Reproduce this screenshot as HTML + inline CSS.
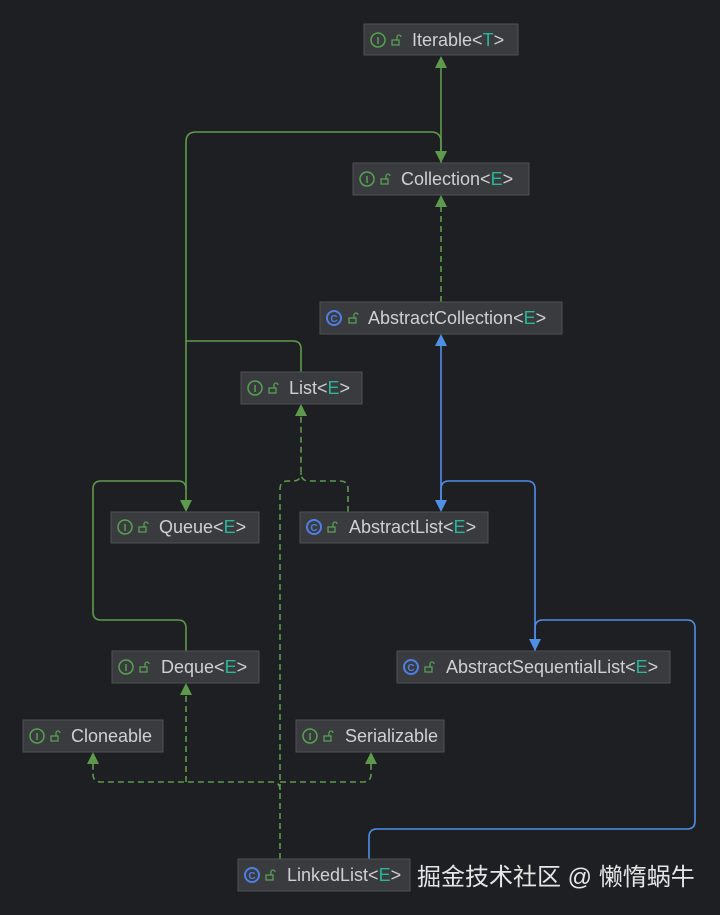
<!DOCTYPE html>
<html><head><meta charset="utf-8"><style>
html,body{margin:0;padding:0;background:#1e1f22;}
svg{display:block}
text{font-family:"Liberation Sans","Noto Sans CJK SC",sans-serif;}
</style></head><body>
<svg width="720" height="915" viewBox="0 0 720 915" xmlns="http://www.w3.org/2000/svg">
<rect width="720" height="915" fill="#1e1f22"/>
<defs>
<g id="lk"><rect x="-4" y="-1" width="7" height="5" fill="none" stroke="#5a9e55" stroke-width="1.3"/><path d="M1,-1 v-3 a2,2 0 0 1 4,0" fill="none" stroke="#5a9e55" stroke-width="1.3"/></g>
</defs>
<g fill="none" stroke-width="1.6">
<g stroke="#5e9a4c">
<path d="M441,163 V62"/>
<path d="M186,506 V142 Q186,132 196,132 H431 Q441,132 441,142 V157"/>
<path d="M301,372 V349 Q301,341 293,341 H186"/>
<path d="M186,651 V628 Q186,620 178,620 H101 Q93,620 93,612 V489 Q93,481 101,481 H178 Q186,481 186,489"/>
</g>
<g stroke="#5e9a4c" stroke-dasharray="6,4">
<path d="M441,302 V201"/>
<path d="M348,512 V489 Q348,481 340,481 H309 Q301,481 301,473 V410"/>
<path d="M280,859 V790 Q280,782 272,782 H101 Q93,782 93,774 V758"/>
<path d="M280,782 H363 Q371,782 371,774 V758"/>
<path d="M186,782 V689"/>
<path d="M280,790 V489 Q280,481 288,481 H293 Q301,481 301,473"/>
</g>
<g stroke="#4f8fe6">
<path d="M441,506 V340"/>
<path d="M535,651 V489 Q535,481 527,481 H449 Q441,481 441,489 V506"/>
<path d="M369,859 V837 Q369,829 377,829 H687 Q695,829 695,821 V628 Q695,620 687,620 H543 Q535,620 535,628 V645"/>
</g>
</g>
<g fill="#5e9a4c">
<path d="M441,56 l-6,12 h12z"/>
<path d="M441,163 l-6,-12 h12z"/>
<path d="M441,195 l-6,12 h12z"/>
<path d="M186,512 l-6,-12 h12z"/>
<path d="M301,404 l-6,12 h12z"/>
<path d="M186,683 l-6,12 h12z"/>
<path d="M93,752 l-6,12 h12z"/>
<path d="M371,752 l-6,12 h12z"/>
</g>
<g fill="#4f8fe6">
<path d="M441,334 l-6,12 h12z"/>
<path d="M441,512 l-6,-12 h12z"/>
<path d="M535,651 l-6,-12 h12z"/>
</g>
<g font-size="18" fill="#cfd0d2">
<rect x="364" y="24" width="154" height="31" fill="#393b3f" stroke="#4d5055"/>
<rect x="353" y="163" width="176" height="32" fill="#393b3f" stroke="#4d5055"/>
<rect x="320" y="302" width="242" height="32" fill="#393b3f" stroke="#4d5055"/>
<rect x="241" y="372" width="121" height="32" fill="#393b3f" stroke="#4d5055"/>
<rect x="111" y="512" width="148" height="31" fill="#393b3f" stroke="#4d5055"/>
<rect x="300" y="512" width="188" height="31" fill="#393b3f" stroke="#4d5055"/>
<rect x="112" y="651" width="147" height="32" fill="#393b3f" stroke="#4d5055"/>
<rect x="397" y="651" width="273" height="32" fill="#393b3f" stroke="#4d5055"/>
<rect x="23" y="720" width="140" height="32" fill="#393b3f" stroke="#4d5055"/>
<rect x="296" y="720" width="148" height="32" fill="#393b3f" stroke="#4d5055"/>
<rect x="238" y="859" width="172" height="32" fill="#393b3f" stroke="#4d5055"/>
<g fill="none" stroke-width="1.5">
<g stroke="#58a152">
<circle cx="378" cy="40" r="7"/><circle cx="367" cy="179" r="7"/><circle cx="255" cy="388" r="7"/>
<circle cx="125" cy="527" r="7"/><circle cx="126" cy="667" r="7"/><circle cx="37" cy="736" r="7"/><circle cx="310" cy="736" r="7"/>
</g>
<g stroke="#4f7fe6" stroke-width="2">
<circle cx="334" cy="318" r="7"/><circle cx="314" cy="527" r="7"/><circle cx="411" cy="667" r="7"/><circle cx="252" cy="875" r="7"/>
</g>
</g>
<g font-size="10" font-weight="bold" text-anchor="middle" fill="#58a152">
<text x="378" y="44">I</text><text x="367" y="183">I</text><text x="255" y="392">I</text>
<text x="125" y="531">I</text><text x="126" y="671">I</text><text x="37" y="740">I</text><text x="310" y="740">I</text>
</g>
<g font-size="10" font-weight="bold" text-anchor="middle" fill="#4f7fe6">
<text x="334" y="322">C</text><text x="314" y="531">C</text><text x="411" y="671">C</text><text x="252" y="879">C</text>
</g>
<use href="#lk" x="396" y="41"/><use href="#lk" x="385" y="180"/><use href="#lk" x="353" y="319"/>
<use href="#lk" x="273" y="389"/><use href="#lk" x="143" y="528"/><use href="#lk" x="332" y="528"/>
<use href="#lk" x="144" y="668"/><use href="#lk" x="429" y="668"/><use href="#lk" x="55" y="737"/>
<use href="#lk" x="328" y="737"/><use href="#lk" x="270" y="876"/>
<text x="412" y="46">Iterable&lt;<tspan fill="#2bb59a">T</tspan>&gt;</text>
<text x="401" y="185">Collection&lt;<tspan fill="#2bb59a">E</tspan>&gt;</text>
<text x="368" y="324">AbstractCollection&lt;<tspan fill="#2bb59a">E</tspan>&gt;</text>
<text x="289" y="394">List&lt;<tspan fill="#2bb59a">E</tspan>&gt;</text>
<text x="159" y="533">Queue&lt;<tspan fill="#2bb59a">E</tspan>&gt;</text>
<text x="349" y="533">AbstractList&lt;<tspan fill="#2bb59a">E</tspan>&gt;</text>
<text x="161" y="673">Deque&lt;<tspan fill="#2bb59a">E</tspan>&gt;</text>
<text x="446" y="673">AbstractSequentialList&lt;<tspan fill="#2bb59a">E</tspan>&gt;</text>
<text x="71" y="742">Cloneable</text>
<text x="345" y="742">Serializable</text>
<text x="287" y="881">LinkedList&lt;<tspan fill="#2bb59a">E</tspan>&gt;</text>
</g>
<text x="417" y="885" font-size="24" fill="#e6e6e6">掘金技术社区 @ 懒惰蜗牛</text>
</svg>
</body></html>
